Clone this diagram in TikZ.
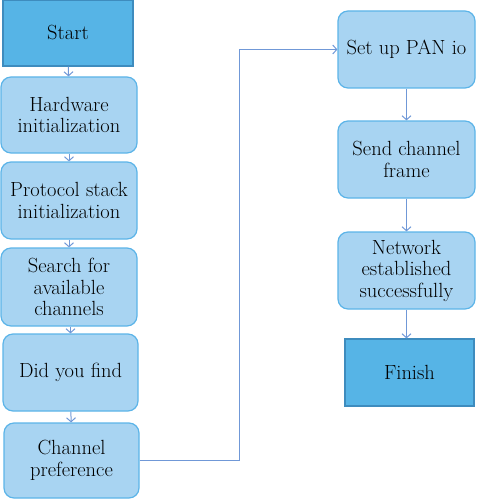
\documentclass[tikz,border=0pt]{standalone}
\usepackage{tikz}
\usetikzlibrary{arrows.meta}

\definecolor{termfill}{RGB}{86,180,230}
\definecolor{termline}{RGB}{62,140,190}
\definecolor{stepfill}{RGB}{168,212,242}
\definecolor{stepline}{RGB}{92,180,232}
\definecolor{flowline}{RGB}{112,152,215}

\tikzset{
  terminal/.style={draw=termline, fill=termfill, line width=1.2pt, align=center,
    font=\fontsize{20.5}{21.5}\selectfont, inner sep=0pt},
  stepbox/.style={draw=stepline, fill=stepfill, line width=1.2pt, rounded corners=10pt,
    align=center, font=\fontsize{20.5}{21.5}\selectfont, inner sep=0pt},
  flow/.style={draw=flowline, line width=1pt, -{Straight Barb[length=4pt,width=9pt]}}
}

\begin{document}
\begin{tikzpicture}[x=1pt,y=-1pt]
				% Rahmen: 476 x 500
				\useasboundingbox (0,0) rectangle (476,500);
				% linke Spalte
				\node[terminal, minimum width=130pt, minimum height=66pt] (start) at (68,33) {Start};
				\node[stepbox, minimum width=136pt, minimum height=76pt] (hw) at (69,115) {Hardware\\initialization};
				\node[stepbox, minimum width=136pt, minimum height=77pt] (proto) at (69,200.5) {Protocol stack\\initialization};
				\node[stepbox, minimum width=136pt, minimum height=78pt] (search) at (69,287) {Search for\\available\\channels};
				\node[stepbox, minimum width=135pt, minimum height=77pt] (find) at (70.5,372.5) {Did you find};
				\node[stepbox, minimum width=135pt, minimum height=75pt] (pref) at (71.5,460.5) {Channel\\preference};
				% rechte Spalte
				\node[stepbox, minimum width=137pt, minimum height=77pt] (pan) at (406.5,49.5) {Set up PAN io};
				\node[stepbox, minimum width=137pt, minimum height=77pt] (send) at (406.5,159.5) {Send channel\\frame};
				\node[stepbox, minimum width=137pt, minimum height=77pt] (net) at (406.5,270.5) {Network\\established\\successfully};
				\node[terminal, minimum width=129pt, minimum height=67pt] (finish) at (409.5,372.5) {Finish};
				\coordinate (bend) at (239,460.5);
				% Pfeile
				\draw[flow] (start) -- (hw);
				\draw[flow] (hw) -- (proto);
				\draw[flow] (proto) -- (search);
				\draw[flow] (search.south -| find) -- (find);
				\draw[flow] (find) -- (pref);
				\draw[flow] (pref.east) -- (bend) |- (pan.west);
				\draw[flow] (pan) -- (send);
				\draw[flow] (send) -- (net);
				\draw[flow] (net.south) -- (net.south |- finish.north);
			\end{tikzpicture}
\end{document}
